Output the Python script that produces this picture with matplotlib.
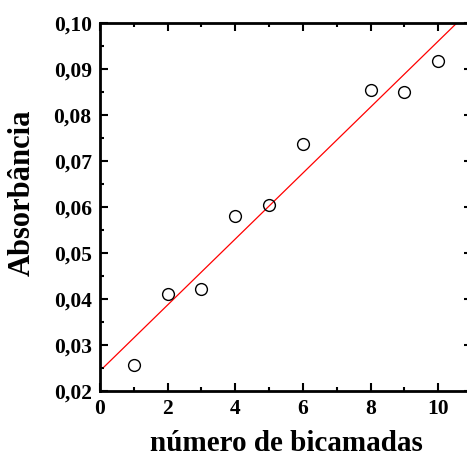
import numpy as np
import matplotlib
matplotlib.use("Agg")
import matplotlib.pyplot as plt
from matplotlib.ticker import MultipleLocator, FuncFormatter

# absorbance vs number of bilayers
n_bicamadas = np.array([1, 2, 3, 4, 5, 6, 8, 9, 10])
absorbancia = np.array([0.0257, 0.0411, 0.0421, 0.0580, 0.0605,
                        0.0736, 0.0855, 0.0851, 0.0918])

plt.rcParams['font.family'] = ['Liberation Serif', 'DejaVu Serif']
plt.rcParams['font.weight'] = 'bold'

fig = plt.figure(figsize=(4.67, 4.57), dpi=100)
ax = fig.add_axes([100/467, 1 - 391/457, 372/467, 368/457])

# linear fit
coef = np.polyfit(n_bicamadas, absorbancia, 1)
xfit = np.linspace(0.12, 11, 100)
ax.plot(xfit, np.polyval(coef, xfit), color='red', lw=0.9, zorder=2)

ax.plot(n_bicamadas, absorbancia, 'o', ms=8.5, mfc='none', mec='black',
        mew=1.0, zorder=3)

ax.set_xlim(0, 11)
ax.set_ylim(0.02, 0.10)
ax.xaxis.set_major_locator(MultipleLocator(2))
ax.xaxis.set_minor_locator(MultipleLocator(1))
ax.yaxis.set_major_locator(MultipleLocator(0.01))
ax.yaxis.set_minor_locator(MultipleLocator(0.005))
ax.yaxis.set_major_formatter(FuncFormatter(lambda v, p: f"{v:.2f}".replace('.', ',')))

ax.tick_params(which='both', direction='in', top=True, right=True, width=1.5)
ax.tick_params(which='major', length=6, labelsize=15.5, pad=6)
ax.tick_params(which='minor', length=3)
for s in ax.spines.values():
    s.set_linewidth(2)

ax.set_xlabel('número de bicamadas', fontsize=21, fontweight='bold', labelpad=8)
ax.set_ylabel('Absorbância', fontsize=22, fontweight='bold', labelpad=12)
ax.yaxis.label.set_y(0.54)

fig.savefig('out.png', dpi=100)
